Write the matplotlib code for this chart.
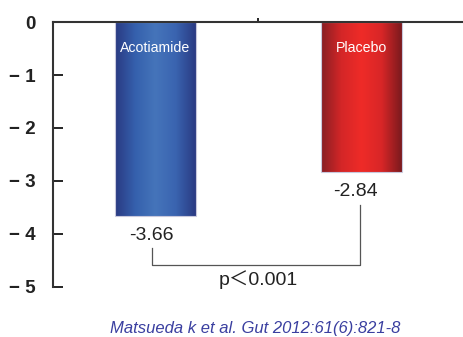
import numpy as np
import matplotlib
matplotlib.use("Agg")
import matplotlib.pyplot as plt
from matplotlib.colors import LinearSegmentedColormap

categories = ["Acotiamide", "Placebo"]
values = [-3.66, -2.84]
value_labels = ["-3.66", "-2.84"]
yticks = [0, -1, -2, -3, -4, -5]
ytick_labels = ["0", "− 1", "− 2", "− 3", "− 4", "− 5"]
p_text = "p＜0.001"
citation = "Matsueda k et al. Gut 2012:61(6):821-8"

plt.rcParams['font.family'] = ['Liberation Sans', 'DejaVu Sans', 'Noto Sans CJK JP']

fig = plt.figure(figsize=(4.64, 3.37), dpi=100)
ax = fig.add_axes([52.7/464, 1-286.5/337, 1-52.7/464, (286.5-22.3)/337])

width = 0.393
x = np.arange(len(categories))
cmaps = [
    LinearSegmentedColormap.from_list("b", ["#2a3a82", "#3560ad", "#4574ba", "#3a64b0", "#2a3a82"]),
    LinearSegmentedColormap.from_list("r", ["#861e24", "#d42627", "#ef2b28", "#d82627", "#7a1a1e"]),
]
bars = ax.bar(x, values, width=width, color="none", edgecolor="#c8c8dc", linewidth=0.8, zorder=2)
grad = np.linspace(0, 1, 256).reshape(1, -1)
for b, cm in zip(bars, cmaps):
    x0, w = b.get_x(), b.get_width()
    h = b.get_height()
    im = ax.imshow(grad, cmap=cm, aspect="auto", extent=(x0, x0 + w, h, 0), zorder=1)
    im.set_clip_path(b)

for xi, name in zip(x, categories):
    ax.text(xi, -0.48, name, color="white", ha="center", va="center", fontsize=10.2, zorder=3)

for xi, v, lab in zip(x, values, value_labels):
    ax.text(xi - 0.02 if xi == 0 else xi - 0.03, v - 0.37, lab, ha="center", va="center", fontsize=14, color="#222222")

# bracket
yl = values[0] - 0.62
yr = values[1] - 0.62
yb = -4.6
ax.plot([x[0] - 0.018, x[0] - 0.018, x[1] - 0.006, x[1] - 0.006], [yl, yb, yb, yr], color="#555555", lw=0.9)
ax.text(0.5, -4.87, p_text, ha="center", va="center", fontsize=14, color="#222222")

ax.set_xlim(-0.5, 1.5)
ax.set_ylim(-5, 0)
ax.set_yticks(yticks)
ax.set_yticklabels(ytick_labels, fontsize=13.5, color="#222222")
ax.tick_params(axis="y", direction="in", length=7, width=1.2, pad=12)
for lab in ax.get_yticklabels():
    lab.set_fontweight("bold")
ax.xaxis.tick_top()
ax.set_xticks([0.5])
ax.set_xticklabels([])
ax.tick_params(axis="x", direction="out", length=3, width=1.2)
ax.spines["right"].set_visible(False)
ax.spines["bottom"].set_visible(False)
ax.spines["left"].set_linewidth(1.5)
ax.spines["top"].set_linewidth(1.5)
ax.spines["left"].set_color("#333333")
ax.spines["top"].set_color("#333333")

fig.text(255/464, 1-329/337, citation, ha="center", va="center", fontsize=12,
         style="italic", color="#3a3fa0", family=['Liberation Sans', 'DejaVu Sans'])

fig.savefig("out.png", dpi=100)
